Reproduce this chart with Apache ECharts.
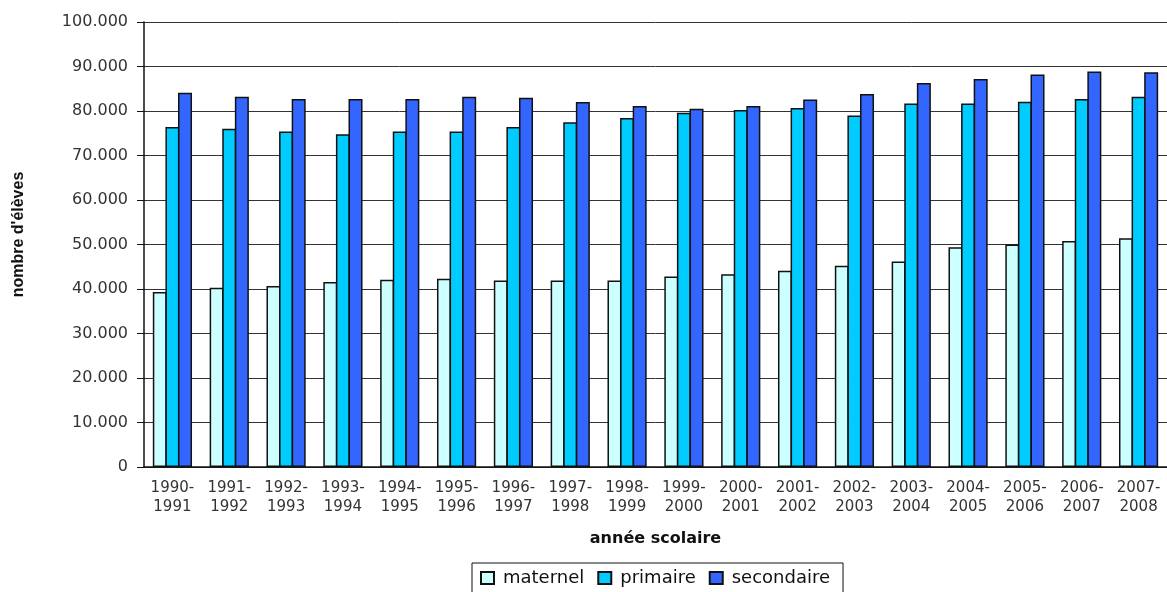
<!DOCTYPE html>
<html>
<head>
<meta charset="utf-8">
<script src="https://cdn.jsdelivr.net/npm/echarts@6/dist/echarts.min.js"></script>
<style>
  html, body { margin: 0; padding: 0; background: #fff; }
  #chart { width: 1167px; height: 592px; }
</style>
</head>
<body>
<div id="chart"></div>
<script>
const categories = ["1990-1991","1991-1992","1992-1993","1993-1994","1994-1995","1995-1996","1996-1997","1997-1998","1998-1999","1999-2000","2000-2001","2001-2002","2002-2003","2003-2004","2004-2005","2005-2006","2006-2007","2007-2008"];
const maternel = [39300, 40300, 40700, 41600, 42100, 42300, 41900, 41900, 41900, 42800, 43300, 44100, 45200, 46200, 49400, 50000, 50800, 51400];
const primaire = [76400, 76000, 75400, 74800, 75400, 75400, 76400, 77500, 78400, 79600, 80200, 80700, 79000, 81700, 81700, 82100, 82700, 83200];
const secondaire = [84100, 83200, 82700, 82700, 82700, 83200, 83000, 82000, 81100, 80500, 81100, 82600, 83800, 86300, 87200, 88200, 88900, 88700];
const seriesNames = ["maternel", "primaire", "secondaire"];
const colors = ["#CCFFFF", "#00CCFF", "#3366FF"];

const chart = echarts.init(document.getElementById('chart'));
const mk = (name, data, color) => ({
  name: name,
  type: 'bar',
  data: data,
  barWidth: 14,
  barGap: '-10%',
  itemStyle: { color: color, borderColor: '#111', borderWidth: 1.5 }
});
chart.setOption({
  animation: false,
  backgroundColor: '#fff',
  grid: { left: 144, top: 22, width: 1030, height: 445, containLabel: false },
  legend: {
    left: 472, top: 563,
    data: seriesNames,
    icon: 'rect',
    itemWidth: 13, itemHeight: 12, itemGap: 13,
    padding: [6, 13, 8, 8],
    borderColor: '#111', borderWidth: 1,
    textStyle: { fontFamily: 'DejaVu Sans', fontSize: 18, color: '#111', padding: [0, 0, 0, 4] }
  },
  xAxis: {
    type: 'category',
    data: categories,
    name: 'année scolaire',
    nameLocation: 'middle',
    nameGap: 64,
    nameTextStyle: { fontFamily: 'DejaVu Sans', fontWeight: 'bold', fontSize: 16, color: '#111' },
    axisLine: { lineStyle: { color: '#111', width: 1.5 } },
    axisTick: { length: 5, lineStyle: { color: '#111' } },
    axisLabel: {
      interval: 0, margin: 12, lineHeight: 19,
      fontFamily: 'DejaVu Sans', fontSize: 15, color: '#333',
      formatter: v => v.replace('-', '-\n')
    }
  },
  yAxis: {
    type: 'value',
    min: 0, max: 100000, interval: 10000,
    name: "nombre d'élèves",
    nameLocation: 'middle',
    nameGap: 117,
    nameRotate: 90,
    nameTextStyle: { fontFamily: 'Liberation Sans', fontWeight: 'bold', fontSize: 16, color: '#111', padding: [0, 0, 0, 20] },
    axisLine: { show: true, lineStyle: { color: '#111', width: 1.5 } },
    axisTick: { show: true, length: 7, lineStyle: { color: '#111' } },
    axisLabel: {
      margin: 16, fontFamily: 'DejaVu Sans', fontSize: 16, color: '#333',
      formatter: v => v === 0 ? '0' : String(v).replace(/\B(?=(\d{3})+(?!\d))/g, '.')
    },
    splitLine: { lineStyle: { color: '#333', width: 1 } }
  },
  series: [
    mk(seriesNames[0], maternel, colors[0]),
    mk(seriesNames[1], primaire, colors[1]),
    mk(seriesNames[2], secondaire, colors[2])
  ]
});
</script>
</body>
</html>
